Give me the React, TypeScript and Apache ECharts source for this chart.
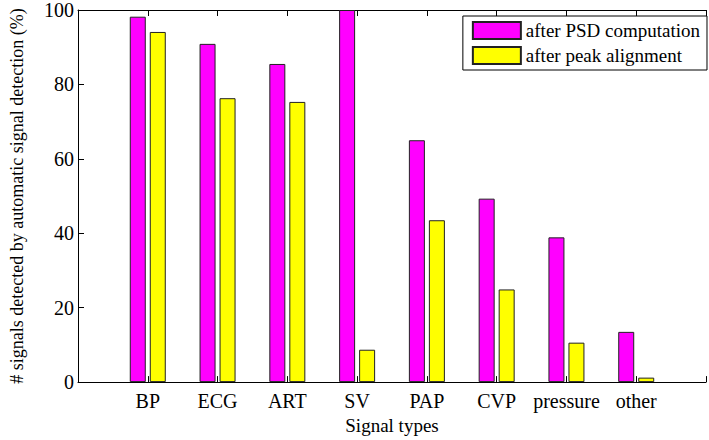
import React, { useEffect, useRef } from "react";
import * as echarts from "echarts";

const categories = ["BP", "ECG", "ART", "SV", "PAP", "CVP", "pressure", "other"];
const afterPSD = [98.2, 90.9, 85.5, 100, 65.0, 49.3, 38.9, 13.5];
const afterPeak = [94.1, 76.3, 75.3, 8.7, 43.5, 24.9, 10.6, 1.2];
const seriesNames = ["after PSD computation", "after peak alignment"];
const yTicks = [0, 20, 40, 60, 80, 100];

const FONT = "Liberation Serif";

export default function App() {
  const ref = useRef<HTMLDivElement>(null);
  useEffect(() => {
    if (!ref.current) return;
    const chart = echarts.init(ref.current, null, { renderer: "svg" });
    const toPairs = (arr: number[]) => arr.map((v, i) => [i + 1, v]);
    const labelFor = (v: number) => {
      const i = Math.round(v) - 1;
      return i >= 0 && i < categories.length ? categories[i] : "";
    };
    const axisCommon = {
      type: "value" as const,
      min: 0,
      max: categories.length + 1,
      interval: 1,
      axisLine: { show: true, onZero: false, lineStyle: { color: "#000", width: 1 } },
      axisTick: { show: true, inside: true, length: 6, lineStyle: { color: "#000" } },
      splitLine: { show: false },
    };
    chart.setOption({
      animation: false,
      backgroundColor: "#fff",
      textStyle: { fontFamily: FONT },
      grid: { left: 76.5, right: -10.4, top: 8, bottom: 50, containLabel: false },
      legend: {
        orient: "vertical",
        right: 2,
        top: 16,
        padding: [5, 7, 5, 9],
        itemWidth: 48,
        itemHeight: 17,
        itemGap: 6,
        backgroundColor: "#fff",
        borderColor: "#000",
        borderWidth: 1,
        borderRadius: 0,
        textStyle: { fontFamily: FONT, fontSize: 19, color: "#000" },
        data: seriesNames.map((n) => ({ name: n, icon: "rect" })),
      },
      xAxis: [
        {
          ...axisCommon,
          position: "bottom",
          name: "Signal types",
          nameLocation: "middle",
          nameGap: 27,
          nameTextStyle: { fontFamily: FONT, fontSize: 19, color: "#000" },
          axisLabel: {
            show: true,
            margin: 9,
            fontFamily: FONT,
            fontSize: 20,
            color: "#000",
            formatter: (v: number) => labelFor(v),
          },
        },
        {
          ...axisCommon,
          position: "top",
          axisLabel: { show: false },
        },
      ],
      yAxis: {
        type: "value",
        min: 0,
        max: 100,
        interval: 20,
        name: "# signals detected by automatic signal detection (%)",
        nameLocation: "middle",
        nameGap: 52,
        nameRotate: 90,
        nameTextStyle: { fontFamily: FONT, fontSize: 18, color: "#000" },
        axisLine: { show: true, lineStyle: { color: "#000", width: 1 } },
        axisTick: { show: true, inside: true, length: 6, lineStyle: { color: "#000" } },
        splitLine: { show: false },
        axisLabel: {
          margin: 4,
          fontFamily: FONT,
          fontSize: 20,
          color: "#000",
          formatter: (v: number) => (yTicks.includes(v) ? String(v) : ""),
        },
      },
      series: [
        {
          name: seriesNames[0],
          type: "bar",
          xAxisIndex: 0,
          barWidth: 16,
          barGap: "25%",
          itemStyle: { color: "#ff00ff", borderColor: "#222", borderWidth: 1 },
          data: toPairs(afterPSD),
        },
        {
          name: seriesNames[1],
          type: "bar",
          xAxisIndex: 0,
          barWidth: 16,
          barGap: "25%",
          itemStyle: { color: "#ffff00", borderColor: "#222", borderWidth: 1 },
          data: toPairs(afterPeak),
        },
      ],
    });
    return () => chart.dispose();
  }, []);
  return (
    <div
      style={{
        width: 709,
        height: 440,
        position: "absolute",
        left: 0,
        top: 0,
        overflow: "hidden",
      }}
    >
      <div ref={ref} style={{ width: 709, height: 440 }} />
    </div>
  );
}
